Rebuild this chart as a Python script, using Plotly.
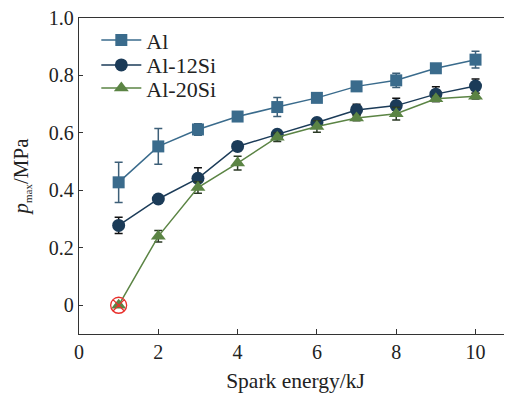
import plotly.graph_objects as go

energy = [1, 2, 3, 4, 5, 6, 7, 8, 9, 10]

al = [0.428, 0.553, 0.612, 0.657, 0.690, 0.722, 0.762, 0.783, 0.825, 0.855]
al_err = [0.070, 0.062, 0.020, 0.010, 0.033, 0.012, 0.010, 0.025, 0.012, 0.029]

al12 = [0.278, 0.370, 0.442, 0.553, 0.595, 0.636, 0.680, 0.695, 0.735, 0.763]
al12_err = [0.028, 0.010, 0.037, 0.015, 0.012, 0.012, 0.020, 0.026, 0.026, 0.025]

al20 = [0.0, 0.240, 0.410, 0.495, 0.585, 0.622, 0.652, 0.667, 0.719, 0.728]
al20_err = [0.0, 0.020, 0.020, 0.024, 0.015, 0.020, 0.010, 0.022, 0.010, 0.010]

failed_x = [1]
failed_y = [0.0]

yticks = [0, 0.2, 0.4, 0.6, 0.8, 1.0]
ytick_text = ["0", "0.2", "0.4", "0.6", "0.8", "1.0"]
xticks = [0, 2, 4, 6, 8, 10]

FONT = "Times New Roman, Liberation Serif, DejaVu Serif, serif"

fig = go.Figure()

fig.add_trace(go.Scatter(
    x=energy, y=al, name="Al", mode="lines+markers", legend="legend",
    line=dict(color="#3a6b8c", width=1.5),
    marker=dict(symbol="square", size=12, color="#3a6b8c"),
    error_y=dict(type="data", array=al_err, color="#3d5f78", thickness=1.5, width=4),
))
fig.add_trace(go.Scatter(
    x=energy, y=al12, name="Al-12Si", mode="lines+markers", legend="legend2",
    line=dict(color="#1b3b58", width=1.5),
    marker=dict(symbol="circle", size=13, color="#1b3b58"),
    error_y=dict(type="data", array=al12_err, color="#111111", thickness=1.5, width=4),
))
fig.add_trace(go.Scatter(
    x=energy, y=al20, name="Al-20Si", mode="lines+markers", legend="legend3",
    line=dict(color="#5b8444", width=1.5),
    marker=dict(symbol="triangle-up", size=13, color="#5b8444"),
    error_y=dict(type="data", array=al20_err, color="#2b3a25", thickness=1.5, width=4),
))
fig.add_trace(go.Scatter(
    x=failed_x, y=failed_y, mode="markers", showlegend=False,
    marker=dict(symbol="circle-x-open", size=16, color="#e8302c", line=dict(width=1.3)),
))

leg_common = dict(x=0.04, xanchor="left", yanchor="middle",
                  bgcolor="rgba(0,0,0,0)", font=dict(size=22, family=FONT, color="#222222"),
                  itemwidth=40)

fig.update_layout(
    width=504, height=390,
    margin=dict(l=71, r=0, t=10, b=64, autoexpand=False),
    paper_bgcolor="white", plot_bgcolor="white",
    font=dict(family=FONT, size=20, color="#222222"),
    legend=dict(y=0.930, **leg_common),
    legend2=dict(y=0.851, **leg_common),
    legend3=dict(y=0.778, **leg_common),
    xaxis=dict(
        range=[0, 10.92], tickvals=xticks, ticks="inside", ticklen=5,
        tickcolor="#333333", showline=True, linecolor="#333333", linewidth=1.3,
        mirror=True, showgrid=False, zeroline=False, automargin=False,
        ticklabeloverflow="allow",
        title=dict(text="Spark energy/kJ", font=dict(size=21.5, family=FONT), standoff=10),
        tickfont=dict(size=20, family=FONT),
    ),
    yaxis=dict(
        range=[-0.1, 1.0], tickvals=yticks, ticktext=ytick_text, ticks="inside", ticklen=4,
        tickcolor="#333333", showline=True, linecolor="#333333", linewidth=1.3,
        mirror=False, showgrid=False, zeroline=False, automargin=False,
        ticklabeloverflow="allow",
        title=dict(text='<i>p</i><sub><span style="font-size:11px">max</span></sub>/MPa',
                   font=dict(size=21, family=FONT), standoff=14),
        tickfont=dict(size=20, family=FONT),
    ),
)

fig.write_html("out.html")
